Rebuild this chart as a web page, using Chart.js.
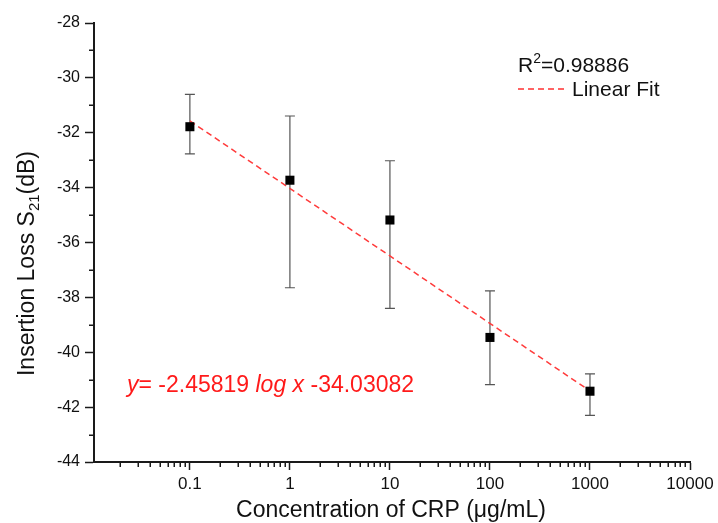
<!DOCTYPE html>
<html>
<head>
<meta charset="utf-8">
<script src="https://cdn.jsdelivr.net/npm/chart.js@4.4.1/dist/chart.umd.min.js"></script>
<style>
  html, body { margin: 0; padding: 0; background: #ffffff; }
  #wrap { width: 718px; height: 523px; }
</style>
</head>
<body>
<div id="wrap"><canvas id="c" width="718" height="523"></canvas></div>
<script>
// ---- Data ----
const concentration = [0.1, 1, 10, 100, 1000];           // µg/mL
const insertionLoss = [-31.78, -33.73, -35.18, -39.46, -41.42]; // dB
const errorTop      = [-30.60, -31.39, -33.02, -37.76, -40.79];
const errorBottom   = [-32.77, -37.65, -38.40, -41.18, -42.30];
const fitX = [0.1, 1000];
const fitY = [-31.57, -41.41];
const xTickValues = [0.1, 1, 10, 100, 1000, 10000];
const xTickLabels = ['0.1', '1', '10', '100', '1000', '10000'];
const xMinorFactors = [2, 3, 4, 5, 6, 7, 8, 9];
const yTickLabels = ['-44', '-42', '-40', '-38', '-36', '-34', '-32', '-30', '-28'];
const yMinorValues = [-43, -41, -39, -37, -35, -33, -31, -29];
const rSquaredText = '0.98886';
const fitLegendText = 'Linear Fit';
const equationParts = [
  { t: 'y', italic: true },
  { t: '= -2.45819 ', italic: false },
  { t: 'log x', italic: true },
  { t: ' -34.03082', italic: false }
];
const xTitle = 'Concentration of CRP (\u03bcg/mL)';
const yTitleParts = ['Insertion Loss S', '21', '(dB)'];

const FONT = '"Liberation Sans", Arial, sans-serif';
const AXIS_COLOR = '#1a1a1a';

const errorBarPlugin = {
  id: 'errorBars',
  beforeDatasetsDraw(chart) {
    const ctx = chart.ctx;
    const xs = chart.scales.x, ys = chart.scales.y;
    ctx.save();
    ctx.strokeStyle = '#555555';
    ctx.lineWidth = 1.2;
    for (let i = 0; i < concentration.length; i++) {
      const px = xs.getPixelForValue(concentration[i]);
      const pt = ys.getPixelForValue(errorTop[i]);
      const pb = ys.getPixelForValue(errorBottom[i]);
      ctx.beginPath();
      ctx.moveTo(px, pt); ctx.lineTo(px, pb);
      ctx.moveTo(px - 5, pt); ctx.lineTo(px + 5, pt);
      ctx.moveTo(px - 5, pb); ctx.lineTo(px + 5, pb);
      ctx.stroke();
    }
    ctx.restore();
  }
};

const decorPlugin = {
  id: 'decor',
  afterDraw(chart) {
    const ctx = chart.ctx;
    const xs = chart.scales.x, ys = chart.scales.y;
    const area = chart.chartArea;
    ctx.save();
    // minor ticks
    ctx.strokeStyle = AXIS_COLOR;
    ctx.lineWidth = 1.5;
    ctx.beginPath();
    yMinorValues.forEach(v => {
      const py = Math.round(ys.getPixelForValue(v)) + 0.25;
      ctx.moveTo(area.left, py); ctx.lineTo(area.left - 5, py);
    });
    for (let d = -2; d <= 3; d++) {
      xMinorFactors.forEach(k => {
        const v = k * Math.pow(10, d);
        if (v <= xs.min || v >= xs.max) return;
        const px = Math.round(xs.getPixelForValue(v)) + 0.25;
        ctx.moveTo(px, area.bottom); ctx.lineTo(px, area.bottom + 5);
      });
    }
    ctx.stroke();

    // y axis title with subscript
    ctx.fillStyle = '#111111';
    ctx.textBaseline = 'alphabetic';
    ctx.textAlign = 'left';
    const mainFont = '23px ' + FONT, subFont = '15px ' + FONT;
    const parts = [
      { t: yTitleParts[0], f: mainFont, dy: 0 },
      { t: yTitleParts[1], f: subFont, dy: 5 },
      { t: yTitleParts[2], f: mainFont, dy: 0 }
    ];
    let total = 0;
    parts.forEach(p => { ctx.font = p.f; p.w = ctx.measureText(p.t).width; total += p.w; });
    ctx.translate(34, (area.top + area.bottom) / 2 + 21);
    ctx.rotate(-Math.PI / 2);
    let u = -total / 2;
    parts.forEach(p => { ctx.font = p.f; ctx.fillText(p.t, u, p.dy); u += p.w; });
    ctx.setTransform(1, 0, 0, 1, 0, 0);

    // x axis title
    ctx.font = '23px ' + FONT;
    ctx.textAlign = 'center';
    ctx.fillText(xTitle, (area.left + area.right) / 2 - 1, 517);
    ctx.textAlign = 'left';

    // legend
    ctx.font = '21px ' + FONT;
    let lx = area.left + 424;
    ctx.fillText('R', lx, 72); lx += ctx.measureText('R').width;
    ctx.font = '14px ' + FONT;
    ctx.fillText('2', lx, 63); lx += ctx.measureText('2').width;
    ctx.font = '21px ' + FONT;
    ctx.fillText('=' + rSquaredText, lx, 72);

    ctx.strokeStyle = '#ff3030';
    ctx.lineWidth = 1.5;
    ctx.setLineDash([6, 4]);
    ctx.beginPath();
    ctx.moveTo(area.left + 424, 89); ctx.lineTo(area.left + 472, 89);
    ctx.stroke();
    ctx.setLineDash([]);
    ctx.fillText(fitLegendText, area.left + 478, 96);

    // equation
    ctx.fillStyle = '#ff1a1a';
    let ex = area.left + 33;
    equationParts.forEach(p => {
      ctx.font = (p.italic ? 'italic ' : '') + '23px ' + FONT;
      ctx.fillText(p.t, ex, 392);
      ex += ctx.measureText(p.t).width;
    });
    ctx.restore();
  }
};

new Chart(document.getElementById('c'), {
  type: 'scatter',
  data: {
    datasets: [
      {
        label: 'CRP',
        data: concentration.map((x, i) => ({ x, y: insertionLoss[i] })),
        pointStyle: 'rect',
        pointRadius: 6.4,
        pointBackgroundColor: '#000000',
        pointBorderColor: '#000000',
        pointBorderWidth: 0,
        showLine: false,
        order: 1
      },
      {
        label: fitLegendText,
        data: fitX.map((x, i) => ({ x, y: fitY[i] })),
        showLine: true,
        borderColor: '#ff3b3b',
        borderWidth: 1.5,
        borderDash: [6, 4],
        pointRadius: 0,
        fill: false,
        order: 2
      }
    ]
  },
  options: {
    responsive: false,
    animation: false,
    events: [],
    layout: { padding: { left: 0, top: 23, right: 28, bottom: 0 } },
    plugins: { legend: { display: false }, tooltip: { enabled: false } },
    scales: {
      x: {
        type: 'logarithmic',
        min: 0.011,
        max: 10000,
        afterBuildTicks: (scale) => { scale.ticks = xTickValues.map(v => ({ value: v, major: true })); },
        afterFit: (scale) => { scale.height = 61; },
        ticks: {
          autoSkip: false,
          maxRotation: 0,
          padding: 4,
          color: '#111111',
          font: { family: FONT, size: 17 },
          callback: (value, index) => xTickLabels[index]
        },
        grid: { drawOnChartArea: false, drawTicks: true, tickLength: 8, tickColor: AXIS_COLOR, tickWidth: 1.5 },
        border: { display: true, color: AXIS_COLOR, width: 2 },
        title: { display: false }
      },
      y: {
        type: 'linear',
        min: -44,
        max: -28,
        afterFit: (scale) => { scale.width = 94; },
        ticks: {
          stepSize: 2,
          padding: 5,
          color: '#111111',
          font: { family: FONT, size: 16 },
          callback: (value, index) => yTickLabels[index]
        },
        grid: { drawOnChartArea: false, drawTicks: true, tickLength: 9, tickColor: AXIS_COLOR, tickWidth: 1.5 },
        border: { display: true, color: AXIS_COLOR, width: 2 }
      }
    }
  },
  plugins: [errorBarPlugin, decorPlugin]
});
</script>
</body>
</html>
